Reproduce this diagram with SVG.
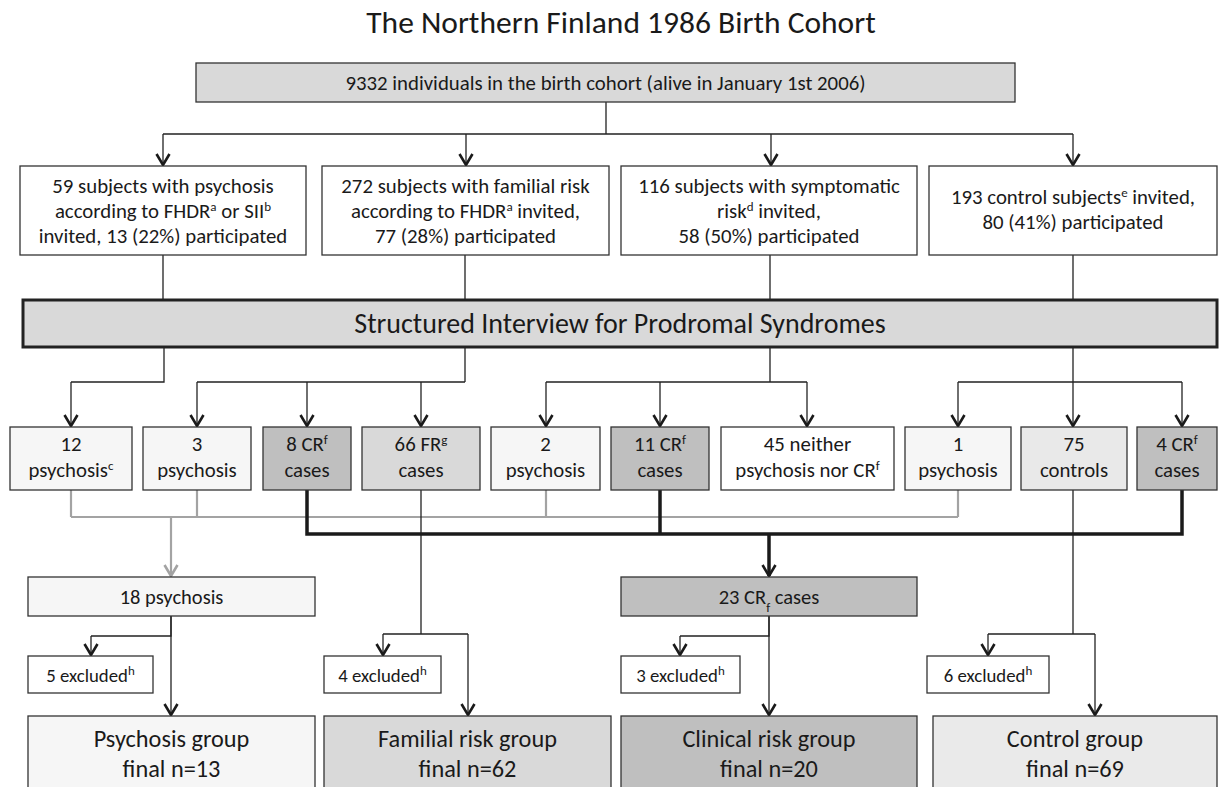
<svg xmlns="http://www.w3.org/2000/svg" width="1222" height="787" viewBox="0 0 1222 787">
<style>
text{font-family:Carlito,Lato,"Liberation Sans",sans-serif;fill:#1a1a1a;text-anchor:middle}
.box{stroke:#333;stroke-width:1.3}
.ln{fill:none;stroke:#222;stroke-width:1.3}
.gr{fill:none;stroke:#a3a3a3;stroke-width:2.2}
.tk{fill:none;stroke:#1a1a1a;stroke-width:3.5}
.t21{font-size:20.8px}
.t20{font-size:20.5px}
.t19{font-size:18.8px}
.t24{font-size:24.3px}
.sup{font-size:13px}
</style>
<defs>
<marker id="a" markerUnits="userSpaceOnUse" markerWidth="20" markerHeight="20" viewBox="-14 -10 16 20" refX="0" refY="0" orient="auto"><path d="M-11,-6.5 L0,0 L-11,6.5" fill="none" stroke="#1a1a1a" stroke-width="2.6"/></marker>
<marker id="ag" markerUnits="userSpaceOnUse" markerWidth="20" markerHeight="20" viewBox="-14 -10 16 20" refX="0" refY="0" orient="auto"><path d="M-11,-6.5 L0,0 L-11,6.5" fill="none" stroke="#a3a3a3" stroke-width="2.6"/></marker>
</defs>
<rect width="1222" height="787" fill="#fff"/>
<text x="621" y="33" style="font-size:31.5px">The Northern Finland 1986 Birth Cohort</text>

<g id="connectors">
<path class="ln" d="M606,102 V134 M163,134 H1073"/>
<path class="ln" marker-end="url(#a)" d="M163,134 V165"/>
<path class="ln" marker-end="url(#a)" d="M466,134 V165"/>
<path class="ln" marker-end="url(#a)" d="M771,134 V165"/>
<path class="ln" marker-end="url(#a)" d="M1073,134 V165"/>
<path class="ln" d="M163,255 V300 M465,255 V300 M770,255 V300 M1073,255 V300"/>
<path class="ln" d="M164,347 V382 H71 M465,347 V382 M197,382 H465 M770,347 V382 M546,382 H807 M1073,347 V382 M958,382 H1182"/>
<path class="ln" marker-end="url(#a)" d="M71,382 V426"/>
<path class="ln" marker-end="url(#a)" d="M197,382 V426"/>
<path class="ln" marker-end="url(#a)" d="M307,382 V426"/>
<path class="ln" marker-end="url(#a)" d="M421,382 V426"/>
<path class="ln" marker-end="url(#a)" d="M546,382 V426"/>
<path class="ln" marker-end="url(#a)" d="M660,382 V426"/>
<path class="ln" marker-end="url(#a)" d="M807,382 V426"/>
<path class="ln" marker-end="url(#a)" d="M958,382 V426"/>
<path class="ln" marker-end="url(#a)" d="M1073,382 V426"/>
<path class="ln" marker-end="url(#a)" d="M1182,382 V426"/>
<path class="gr" d="M71,490 V517 M197,490 V517 M546,490 V517 M958,490 V517 M71,517 H958"/>
<path class="gr" marker-end="url(#ag)" d="M171,517 V576"/>
<path class="ln" d="M421,490 V634 M383,634 H468 M1073,490 V634 M988,634 H1095"/>
<path class="tk" d="M307,490 V534 H1182 V490 M660,490 V534"/>
<path class="tk" marker-end="url(#a)" d="M769,534 V576"/>
<path class="ln" marker-end="url(#a)" d="M383,634 V655"/>
<path class="ln" marker-end="url(#a)" d="M468,634 V715"/>
<path class="ln" marker-end="url(#a)" d="M988,634 V655"/>
<path class="ln" marker-end="url(#a)" d="M1095,634 V715"/>
<path class="ln" d="M171,616 V636 H91 M769,616 V636 H680"/>
<path class="ln" marker-end="url(#a)" d="M171,616 V715"/>
<path class="ln" marker-end="url(#a)" d="M91,636 V655"/>
<path class="ln" marker-end="url(#a)" d="M769,616 V715"/>
<path class="ln" marker-end="url(#a)" d="M680,636 V655"/>
</g>

<g id="cohort"><rect class="box" x="196" y="63" width="819" height="39" fill="#d9d9d9"/><text class="t21" x="605.5" y="90">9332 individuals in the birth cohort (alive in January 1st 2006)</text></g>

<g id="psychosis-invited"><rect class="box" x="20" y="166" width="286" height="89" fill="#fff"/>
<text class="t21" x="163" y="193">59 subjects with psychosis</text>
<text class="t21" x="163" y="218">according to FHDR<tspan class="sup" baseline-shift="super">a</tspan> or SII<tspan class="sup" baseline-shift="super">b</tspan></text>
<text class="t21" x="163" y="243">invited, 13 (22%) participated</text></g>

<g id="familial-invited"><rect class="box" x="322" y="166" width="287" height="89" fill="#fff"/>
<text class="t21" x="465.5" y="193">272 subjects with familial risk</text>
<text class="t21" x="465.5" y="218">according to FHDR<tspan class="sup" baseline-shift="super">a</tspan> invited,</text>
<text class="t21" x="465.5" y="243">77 (28%) participated</text></g>

<g id="symptomatic-invited"><rect class="box" x="621" y="166" width="296" height="89" fill="#fff"/>
<text class="t21" x="769" y="193">116 subjects with symptomatic</text>
<text class="t21" x="769" y="218">risk<tspan class="sup" baseline-shift="super">d</tspan> invited,</text>
<text class="t21" x="769" y="243">58 (50%) participated</text></g>

<g id="control-invited"><rect class="box" x="929" y="166" width="288" height="89" fill="#fff"/>
<text class="t21" x="1073" y="204">193 control subjects<tspan class="sup" baseline-shift="super">e</tspan> invited,</text>
<text class="t21" x="1073" y="229">80 (41%) participated</text></g>

<g id="sips"><rect x="23" y="300" width="1194" height="47" fill="#d9d9d9" stroke="#222" stroke-width="3"/>
<text x="620" y="333" style="font-size:28px">Structured Interview for Prodromal Syndromes</text></g>

<g id="n12"><rect class="box" x="10" y="427" width="122" height="63" fill="#f6f6f6"/><text class="t21" x="71" y="451">12</text><text class="t21" x="71" y="477">psychosis<tspan class="sup" baseline-shift="super">c</tspan></text></g>
<g id="n3"><rect class="box" x="143" y="427" width="108" height="63" fill="#f6f6f6"/><text class="t21" x="197" y="451">3</text><text class="t21" x="197" y="477">psychosis</text></g>
<g id="n8cr"><rect class="box" x="263" y="427" width="88" height="63" fill="#bfbfbf"/><text class="t21" x="307" y="451">8 CR<tspan class="sup" baseline-shift="super">f</tspan></text><text class="t21" x="307" y="477">cases</text></g>
<g id="n66fr"><rect class="box" x="362" y="427" width="118" height="63" fill="#d9d9d9"/><text class="t21" x="421" y="451">66 FR<tspan class="sup" baseline-shift="super">g</tspan></text><text class="t21" x="421" y="477">cases</text></g>
<g id="n2"><rect class="box" x="491" y="427" width="109" height="63" fill="#f6f6f6"/><text class="t21" x="545.5" y="451">2</text><text class="t21" x="545.5" y="477">psychosis</text></g>
<g id="n11cr"><rect class="box" x="611" y="427" width="98" height="63" fill="#bfbfbf"/><text class="t21" x="660" y="451">11 CR<tspan class="sup" baseline-shift="super">f</tspan></text><text class="t21" x="660" y="477">cases</text></g>
<g id="n45"><rect class="box" x="721" y="427" width="173" height="63" fill="#fff"/><text class="t21" x="807.5" y="451">45 neither</text><text class="t21" x="807.5" y="477">psychosis nor CR<tspan class="sup" baseline-shift="super">f</tspan></text></g>
<g id="n1"><rect class="box" x="905" y="427" width="106" height="63" fill="#f6f6f6"/><text class="t21" x="958" y="451">1</text><text class="t21" x="958" y="477">psychosis</text></g>
<g id="n75"><rect class="box" x="1021" y="427" width="106" height="63" fill="#e9e9e9"/><text class="t21" x="1074" y="451">75</text><text class="t21" x="1074" y="477">controls</text></g>
<g id="n4cr"><rect class="box" x="1137" y="427" width="80" height="63" fill="#bfbfbf"/><text class="t21" x="1177" y="451">4 CR<tspan class="sup" baseline-shift="super">f</tspan></text><text class="t21" x="1177" y="477">cases</text></g>

<g id="psy18"><rect class="box" x="28" y="577" width="287" height="39" fill="#f6f6f6"/><text class="t20" x="171.5" y="604">18 psychosis</text></g>
<g id="cr23"><rect class="box" x="621" y="577" width="296" height="39" fill="#bfbfbf"/><text class="t20" x="769" y="604">23 CR<tspan font-size="13px" baseline-shift="sub">f</tspan> cases</text></g>

<g id="ex5"><rect class="box" x="28" y="656" width="125" height="37" fill="#fff"/><text class="t19" x="90.5" y="682">5 excluded<tspan class="sup" baseline-shift="super">h</tspan></text></g>
<g id="ex4"><rect class="box" x="324" y="656" width="117" height="37" fill="#fff"/><text class="t19" x="382.5" y="682">4 excluded<tspan class="sup" baseline-shift="super">h</tspan></text></g>
<g id="ex3"><rect class="box" x="621" y="656" width="119" height="37" fill="#fff"/><text class="t19" x="680.5" y="682">3 excluded<tspan class="sup" baseline-shift="super">h</tspan></text></g>
<g id="ex6"><rect class="box" x="927" y="656" width="122" height="37" fill="#fff"/><text class="t19" x="988" y="682">6 excluded<tspan class="sup" baseline-shift="super">h</tspan></text></g>

<g id="g-psychosis"><rect class="box" x="28" y="716" width="287" height="90" fill="#f6f6f6"/><text class="t24" x="171.5" y="747">Psychosis group</text><text class="t24" x="171.5" y="777">final n=13</text></g>
<g id="g-familial"><rect class="box" x="324" y="716" width="287" height="90" fill="#d9d9d9"/><text class="t24" x="467.5" y="747">Familial risk group</text><text class="t24" x="467.5" y="777">final n=62</text></g>
<g id="g-clinical"><rect class="box" x="621" y="716" width="296" height="90" fill="#bfbfbf"/><text class="t24" x="769" y="747">Clinical risk group</text><text class="t24" x="769" y="777">final n=20</text></g>
<g id="g-control"><rect class="box" x="933" y="716" width="284" height="90" fill="#eaeaea"/><text class="t24" x="1075" y="747">Control group</text><text class="t24" x="1075" y="777">final n=69</text></g>
</svg>
